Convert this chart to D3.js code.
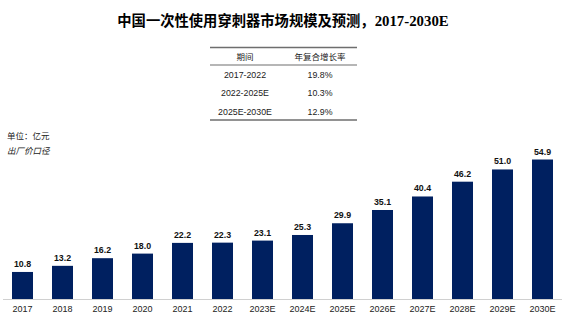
<!DOCTYPE html>
<html><head><meta charset="utf-8">
<script src="https://cdn.jsdelivr.net/npm/d3@7"></script>
<style>body{margin:0;background:#fff}</style>
</head><body>
<svg id="c" width="569" height="335"></svg>
<script>
const categories = ["2017","2018","2019","2020","2021","2022","2023E","2024E","2025E","2026E","2027E","2028E","2029E","2030E"];
const values = [10.8,13.2,16.2,18.0,22.2,22.3,23.1,25.3,29.9,35.1,40.4,46.2,51.0,54.9];
const tablePeriods = ["2017-2022","2022-2025E","2025E-2030E"];
const tableCagr = ["19.8%","10.3%","12.9%"];
const tableHeader = ["期间","年复合增长率"];

const svg = d3.select("#c");
const base = 299.5;
const x = d3.scaleBand().domain(categories).range([2.5,562.5]).paddingInner(0.475).paddingOuter(0.2375);
const y = d3.scaleLinear().domain([0,60]).range([base, base-153]);

// title
const t = svg.append("text").attr("x",283).attr("y",26).attr("text-anchor","middle").attr("font-weight","bold").attr("fill","#000");
t.append("tspan").attr("font-family","'Noto Sans CJK SC'").attr("font-size",14.3).text("中国一次性使用穿刺器市场规模及预测，");
t.append("tspan").attr("font-family","'Liberation Serif'").attr("font-size",14.8).text("2017-2030E");

// table
const tl = 210, tr = 357;
const tg = svg.append("g");
[[47.5,1.6],[65,1.2],[120,1.6]].forEach(([yy,w])=>{
  tg.append("line").attr("x1",tl).attr("x2",tr).attr("y1",yy).attr("y2",yy).attr("stroke","#6e6e6e").attr("stroke-width",w);
});
const colX = [245,320];
tableHeader.forEach((h,i)=>tg.append("text").attr("x",colX[i]).attr("y",60).attr("text-anchor","middle")
  .attr("font-family","'Noto Sans CJK SC'").attr("font-size",8.5).attr("fill","#222").text(h));
const rowY = [77.5,96,114.5];
tablePeriods.forEach((p,i)=>{
  tg.append("text").attr("x",colX[0]).attr("y",rowY[i]).attr("text-anchor","middle").attr("font-family","'Liberation Sans',Arial").attr("font-size",8.8).attr("fill","#222").text(p);
  tg.append("text").attr("x",colX[1]).attr("y",rowY[i]).attr("text-anchor","middle").attr("font-family","'Liberation Sans',Arial").attr("font-size",8.8).attr("fill","#222").text(tableCagr[i]);
});

// unit
svg.append("text").attr("x",7).attr("y",139).attr("font-family","'Noto Sans CJK SC'").attr("font-size",8.5).attr("fill","#222").text("单位：亿元");
svg.append("text").attr("x",7).attr("y",154).attr("font-family","'Noto Sans CJK SC'").attr("font-size",8.5).attr("font-style","italic").attr("fill","#222").text("出厂价口径");

// bars
svg.append("g").selectAll("rect").data(values).join("rect")
  .attr("x",(d,i)=>x(categories[i])).attr("width",x.bandwidth())
  .attr("y",d=>y(d)).attr("height",d=>base-y(d)).attr("fill","#002060");

svg.append("g").selectAll("text").data(values).join("text")
  .attr("x",(d,i)=>x(categories[i])+x.bandwidth()/2).attr("y",d=>y(d)-5)
  .attr("text-anchor","middle").attr("font-family","'Liberation Sans',Arial").attr("font-weight","bold")
  .attr("font-size",8.8).attr("fill","#111").text(d=>d.toFixed(1));

// axis
const ax = svg.append("g").attr("transform",`translate(0,${base})`)
  .call(d3.axisBottom(x).tickSize(0).tickPadding(6));
ax.select(".domain").attr("d","M3,0H562").attr("stroke","#d0d0d0").attr("stroke-width",1);
ax.selectAll("text").attr("font-family","'Liberation Sans',Arial").attr("font-size",9).attr("fill","#222");
</script>
</body></html>
